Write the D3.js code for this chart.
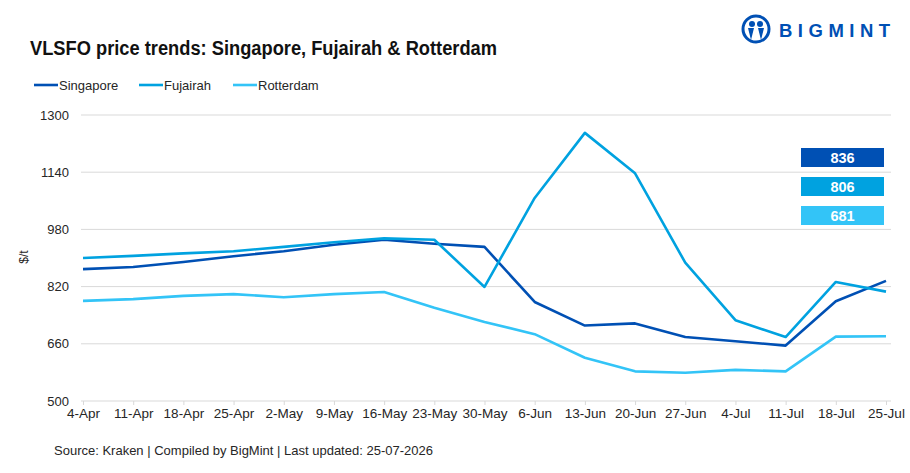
<!DOCTYPE html>
<html>
<head>
<meta charset="utf-8">
<script src="https://cdn.jsdelivr.net/npm/d3@7"></script>
<style>
  body { margin: 0; background: #fff; }
  svg text { font-family: "Liberation Sans", Arial, sans-serif; }
</style>
</head>
<body>
<div id="chart"></div>
<script>
// data
const weeks = ["4-Apr", "11-Apr", "18-Apr", "25-Apr", "2-May", "9-May", "16-May", "23-May", "30-May",
    "6-Jun", "13-Jun", "20-Jun", "27-Jun", "4-Jul", "11-Jul", "18-Jul", "25-Jul"];
const singapore = [869, 875, 889, 905, 919, 937, 951, 940, 931, 777, 711, 717, 679, 667, 655, 779, 836];
const fujairah = [900, 906, 913, 919, 931, 944, 955, 951, 819, 1068, 1250, 1137, 887, 726, 679, 833, 806];
const rotterdam = [780, 785, 794, 799, 790, 799, 805, 761, 721, 687, 621, 583, 579, 587, 583, 680, 681];
const yTicks = [500, 660, 820, 980, 1140, 1300];

const seriesNames = ["Singapore", "Fujairah", "Rotterdam"];
const seriesValues = [singapore, fujairah, rotterdam];
const colors = ["#0050b4", "#00a2e0", "#33c4f7"];

const width = 910, height = 473;
const margin = {left: 82, right: 23, top: 115, bottom: 72};

const svg = d3.select("#chart").append("svg")
    .attr("width", width)
    .attr("height", height);

const x = d3.scalePoint().domain(weeks).range([margin.left + 1, width - margin.right - 1]);
const y = d3.scaleLinear().domain([500, 1300]).range([height - margin.bottom, margin.top]);

// gridlines
svg.append("g")
    .selectAll("line")
    .data(yTicks.slice(1))
    .join("line")
    .attr("x1", margin.left - 1)
    .attr("x2", width - 19)
    .attr("y1", d => y(d))
    .attr("y2", d => y(d))
    .attr("stroke", "#d9d9d9")
    .attr("stroke-width", 1);

// y axis
const yAxis = d3.axisLeft(y).tickValues(yTicks).tickFormat(d3.format("d")).tickSize(0).tickPadding(12);
svg.append("g")
    .attr("transform", "translate(" + (margin.left - 1) + ",0)")
    .call(yAxis)
    .call(g => g.select(".domain").remove())
    .selectAll("text")
    .attr("font-size", 13)
    .attr("fill", "#262626");

// x axis
const xAxis = d3.axisBottom(x).tickSize(4).tickPadding(3);
svg.append("g")
    .attr("transform", "translate(0," + y(500) + ")")
    .call(xAxis)
    .call(g => g.select(".domain").attr("stroke", "#d9d9d9").attr("d", "M" + (margin.left - 1) + ",0H" + (width - 19)))
    .call(g => g.selectAll(".tick line").attr("stroke", "#d9d9d9"))
    .selectAll("text")
    .attr("font-size", 13.5)
    .attr("fill", "#262626");

// y axis title
svg.append("text")
    .attr("transform", "translate(28," + 257 + ") rotate(-90)")
    .attr("text-anchor", "middle")
    .attr("font-size", 12)
    .attr("fill", "#262626")
    .text("$/t");

// lines
const line = d3.line()
    .x((d, i) => x(weeks[i]))
    .y(d => y(d));

svg.append("g")
    .selectAll("path")
    .data(seriesValues)
    .join("path")
    .attr("d", d => line(d))
    .attr("fill", "none")
    .attr("stroke", (d, i) => colors[i])
    .attr("stroke-width", 2.6)
    .attr("stroke-linejoin", "round");

// latest value boxes
const boxes = svg.append("g")
    .selectAll("g")
    .data(seriesValues)
    .join("g")
    .attr("transform", (d, i) => "translate(801," + (148 + i * 29) + ")");

boxes.append("rect")
    .attr("width", 83)
    .attr("height", 19)
    .attr("fill", (d, i) => colors[i]);

boxes.append("text")
    .attr("x", 41.5)
    .attr("y", 15)
    .attr("text-anchor", "middle")
    .attr("font-size", 14.5)
    .attr("font-weight", "bold")
    .attr("fill", "#fff")
    .text(d => d[d.length - 1]);

// title
svg.append("text")
    .attr("x", 30)
    .attr("y", 55)
    .attr("font-size", 20)
    .attr("font-weight", "bold")
    .attr("fill", "#111")
    .attr("textLength", 467)
    .attr("lengthAdjust", "spacingAndGlyphs")
    .text("VLSFO price trends: Singapore, Fujairah & Rotterdam");

// legend
const legendX = [34, 139, 233];
const legend = svg.append("g")
    .selectAll("g")
    .data(seriesNames)
    .join("g")
    .attr("transform", (d, i) => "translate(" + legendX[i] + ",85)");

legend.append("line")
    .attr("x1", 0)
    .attr("x2", 24)
    .attr("stroke", (d, i) => colors[i])
    .attr("stroke-width", 2.6);

legend.append("text")
    .attr("x", 25)
    .attr("y", 4.5)
    .attr("font-size", 13)
    .attr("fill", "#262626")
    .text(d => d);

// source
svg.append("text")
    .attr("x", 54)
    .attr("y", 455)
    .attr("font-size", 13)
    .attr("fill", "#262626")
    .text("Source: Kraken | Compiled by BigMint | Last updated: 25-07-2026");

// logo
const logo = svg.append("g").attr("transform", "translate(756,29)");
logo.append("circle").attr("r", 13).attr("fill", "none").attr("stroke", "#0050b4").attr("stroke-width", 3);
logo.append("circle").attr("cx", -4).attr("cy", -5).attr("r", 3).attr("fill", "#0050b4");
logo.append("circle").attr("cx", 4).attr("cy", -5).attr("r", 3).attr("fill", "#0050b4");
logo.append("path").attr("d", "M-8,-1 L-5,11 L-2,-1 Z M2,-1 L5,11 L8,-1 Z").attr("fill", "#0050b4");
svg.append("text")
    .attr("x", 779)
    .attr("y", 37)
    .attr("font-size", 18.5)
    .attr("font-weight", "bold")
    .attr("letter-spacing", 5.5)
    .attr("fill", "#0050b4")
    .text("BIGMINT");
</script>
</body>
</html>
